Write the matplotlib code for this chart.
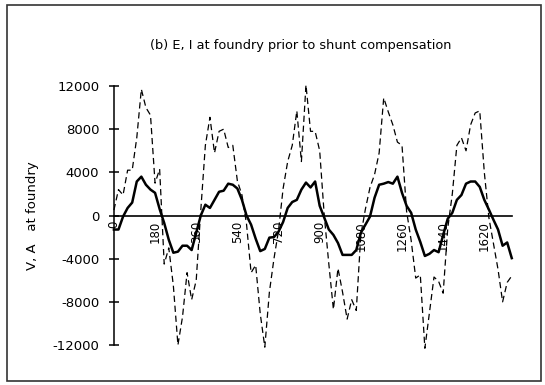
import numpy as np
import matplotlib
matplotlib.use('Agg')
import matplotlib.pyplot as plt
from matplotlib.patches import Rectangle

# Angle in degrees, one sample every 20 degrees
angle = np.arange(0, 1741, 20)

# Voltage at foundry (dashed)
voltage = [500, 2400, 1900, 4200, 4200, 7200, 11700, 10000, 9300, 3000,
           4300, -4500, -3000, -6500, -12000, -9400, -5300, -7800, -6000, 500,
           6500, 9100, 5800, 7800, 8000, 6300, 6500, 3200, 1900, -800,
           -5300, -4600, -9100, -12200, -7100, -4000, -1400, 2500, 5000, 6500,
           9700, 5000, 12100, 7800, 7800, 6000, 0, -4500, -8700, -4900,
           -7100, -9600, -7800, -8800, -1800, 600, 2600, 3800, 5800, 10900,
           9600, 8400, 6800, 6500, 400, -2300, -5800, -5500, -12300, -9000,
           -5700, -6100, -7200, -1200, 2000, 6500, 7200, 6000, 8400, 9500,
           9700, 4000, -200, -2600, -5000, -8000, -6200, -5600]

# Current at foundry (solid)
current = [-1300, -1300, -100, 700, 1200, 3150, 3600, 2850, 2400, 2100,
           600, -700, -2250, -3450, -3350, -2800, -2800, -3200, -1600, 0,
           1000, 700, 1450, 2200, 2300, 2950, 2850, 2500, 1450, 0,
           -850, -2150, -3300, -3100, -2050, -2000, -1500, -600, 700, 1250,
           1450, 2400, 3050, 2600, 3150, 900, -200, -1300, -1800, -2550,
           -3650, -3650, -3650, -3200, -1600, -850, -100, 1650, 2850, 2950,
           3100, 2950, 3600, 2100, 900, 250, -1300, -2450, -3750, -3550,
           -3200, -3400, -1800, -300, 250, 1450, 1900, 2950, 3150, 3150,
           2650, 1450, 550, -400, -1300, -2800, -2500, -3950]

x_ticks = [0, 180, 360, 540, 720, 900, 1080, 1260, 1440, 1620]
y_ticks = [-12000, -8000, -4000, 0, 4000, 8000, 12000]
y_labels = ['-12000', '-8000', '-4000', '0', '4000', '8000', '12000']

fig = plt.figure(figsize=(5.45, 3.85), dpi=100)
ax = fig.add_axes([0.209, 0.1039, 0.730, 0.6727])

ax.plot(angle, voltage, color='black', linewidth=0.9,
        linestyle=(0, (5, 3)), clip_on=False)
ax.plot(angle, current, color='black', linewidth=1.8, clip_on=False)

ax.set_xlim(0, 1740)
ax.set_ylim(-12000, 12000)

# axes styling: y axis on the left, x axis along zero
for side in ['top', 'right']:
    ax.spines[side].set_visible(False)
ax.spines['left'].set_linewidth(1.1)
ax.spines['bottom'].set_position(('data', 0))
ax.spines['bottom'].set_linewidth(1.2)

ax.set_yticks(y_ticks)
ax.set_yticklabels(y_labels, fontsize=9.5)
ax.tick_params(axis='y', direction='inout', length=7, width=1.1, pad=7)

ax.set_xticks(x_ticks)
ax.set_xticklabels([str(t) for t in x_ticks], fontsize=8.5, rotation=90)
ax.tick_params(axis='x', length=0, pad=4)

ax.set_ylabel('V, A   at foundry', fontsize=9.5, labelpad=10)
fig.text(0.552, 0.883, '(b) E, I at foundry prior to shunt compensation',
         ha='center', va='center', fontsize=9.3)

# border around the whole figure
fig.patches.append(Rectangle((0.012, 0.010), 0.981, 0.978, transform=fig.transFigure,
                             fill=False, edgecolor='#333333', linewidth=1.2))

fig.savefig('out.png', dpi=100)
